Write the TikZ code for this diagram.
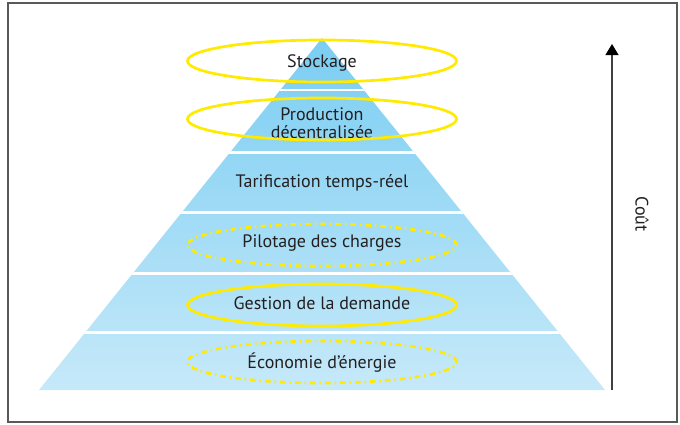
\documentclass[tikz,border=0pt]{standalone}
\usepackage{fontspec}
\setmainfont{PT Sans}
\usepackage{tikz}
\usetikzlibrary{positioning}
\usetikzlibrary{shapes.geometric}
\usetikzlibrary{arrows.meta}
\definecolor{pyrtop}{RGB}{122,205,242}
\definecolor{pyrbot}{RGB}{198,233,249}
\definecolor{ringyellow}{RGB}{255,234,0}
\definecolor{labelgray}{RGB}{35,31,32}
\tikzset{
    ring/.style={draw=ringyellow, line width=2.7pt},
    dashring/.style={ring, dash pattern=on 5.5pt off 4pt on 1.5pt off 4pt}
}

\begin{document}
\begin{tikzpicture}[x=1pt, y=-1pt, node distance=60pt,
    font=\fontsize{18}{18.5}\selectfont, text=labelgray]
    \useasboundingbox (0,0) rectangle (680,424);
    \draw [gray!70!black, line width=1.3pt] (8,3) rectangle (677,422);

    % pyramide
    \coordinate (apex) at (322,38);
    \coordinate (baseleft) at (39,390);
    \coordinate (baseright) at (605,390);
    \begin{scope}
        \clip (apex) -- (baseleft) -- (baseright) -- cycle;
        \shade [top color=pyrtop, bottom color=pyrbot] (apex) -- (baseleft) -- (baseright) -- cycle;
        \foreach \y in {90,152.5,212.5,273.5,332.5}
            \draw [white, line width=2.8pt] (30,\y) -- (615,\y);
    \end{scope}

    \node (stock) at (322,63) {Stockage};
    \node [below of=stock, align=center] (prod) {Production\\décentralisée};
    \node [below of=prod] (tarif) {Tarification temps-réel};
    \node [below of=tarif] (pilot) {Pilotage des charges};
    \node [below of=pilot] (gest) {Gestion de la demande};
    \node [below of=gest] (econ) {Économie d’énergie};

    \draw [ring] ([yshift=2pt]stock.center) ellipse [x radius=134.5pt, y radius=21pt];
    \draw [ring] ([yshift=4pt]prod.center) ellipse [x radius=134.5pt, y radius=21pt];
    \draw [dashring] ([yshift=-2pt]pilot.center) ellipse [x radius=134.5pt, y radius=21pt];
    \draw [ring] ([yshift=-2pt]gest.center) ellipse [x radius=134.5pt, y radius=21pt];
    \draw [dashring] ([yshift=1pt]econ.center) ellipse [x radius=134.5pt, y radius=21pt];

    % cout
    \coordinate (costlow) at (612,390);
    \coordinate (costhigh) at (612,44);
    \draw [-{Triangle[width=13pt, length=11pt, color=black]}, gray!50!black, line width=1.2pt] (costlow) -- (costhigh);
    \node [rotate=-90] (cout) at (642,214) {Coût};
\end{tikzpicture}
\end{document}
